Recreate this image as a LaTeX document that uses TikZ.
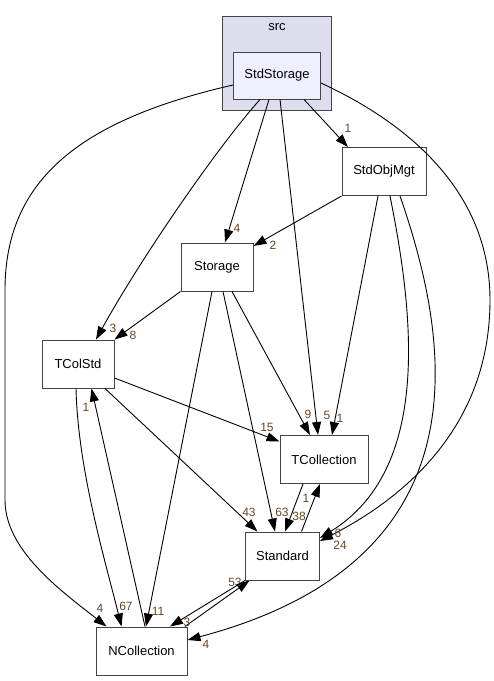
\documentclass[tikz,border=0pt]{standalone}
\usepackage{fontspec}
\setmainfont{Liberation Sans}
\usetikzlibrary{arrows.meta}
\definecolor{clusterfill}{HTML}{DDDDEE}
\definecolor{dirfill}{HTML}{EEEEFF}
\definecolor{dirline}{HTML}{444444}
\definecolor{deplabel}{HTML}{6B4420}

\begin{document}
\begin{tikzpicture} [x=1pt, y=-1pt,
    dir/.style={draw=dirline, line width=1pt, fill=white, inner sep=0pt,
        minimum height=48pt, font=\fontsize{13}{14}\selectfont},
    cluster/.style={draw=dirline, line width=1pt, fill=clusterfill, inner sep=0pt},
    dep/.style={-{Triangle[length=13pt, width=9pt]}, line width=0.9pt},
    lbl/.style={text=deplabel, inner sep=0pt, font=\fontsize{12}{12}\selectfont}]

\useasboundingbox (0,0) rectangle (494,681);

% src folder
\node (src) [cluster, minimum width=109pt, minimum height=94pt] at (277,63) {};
\node (srctitle) [font=\fontsize{13}{14}\selectfont] at (277,27) {src};

\node (stdstorage) [dir, fill=dirfill, minimum width=87pt, minimum height=47pt] at (277,75.5) {StdStorage};
\node (stdobjmgt) [dir, minimum width=84pt] at (384,171.5) {StdObjMgt};
\node (storage) [dir, minimum width=72pt] at (217,267) {Storage};
\node (tcolstd) [dir, minimum width=72pt] at (78,364) {TColStd};
\node (tcollection) [dir, minimum width=88pt] at (324,459.5) {TCollection};
\node (standard) [dir, minimum width=74pt] at (282.5,556) {Standard};
\node (ncollection) [dir, minimum width=91pt] at (141.5,651) {NCollection};

% StdStorage
\draw [dep] ([xshift=27pt]stdstorage.south) -- ([xshift=-36pt]stdobjmgt.north)
    node [lbl] at (348,128) {1};
\draw [dep] ([xshift=-8pt]stdstorage.south) -- ([xshift=8pt]storage.north)
    node [lbl] at (237,228) {4};
\draw [dep] ([xshift=-17pt]stdstorage.south) .. controls (215,150) and (140,260) .. ([xshift=18pt]tcolstd.north)
    node [lbl] at (113,328) {3};
\draw [dep] ([xshift=3pt]stdstorage.south) -- ([xshift=-6pt]tcollection.north)
    node [lbl] at (327,415) {5};
\draw [dep] ([yshift=-7.5pt]stdstorage.east) .. controls (390,115) and (490,180) .. (490,300)
    .. controls (490,430) and (400,500) .. ([yshift=15pt]standard.east)
    node [lbl] at (340,545) {24};
\draw [dep] ([yshift=-9.5pt]stdstorage.west) .. controls (80,120) and (5,180) .. (5,290) -- (5,500)
    .. controls (5,550) and (60,590) .. ([xshift=-35pt]ncollection.north)
    node [lbl] at (100,608) {4};

% StdObjMgt
\draw [dep] (stdobjmgt.south west) -- ([yshift=21pt]storage.east)
    node [lbl] at (273,245) {2};
\draw [dep] ([xshift=-6pt]stdobjmgt.south) -- ([xshift=8pt]tcollection.north)
    node [lbl] at (340,418) {1};
\draw [dep] ([xshift=6pt]stdobjmgt.south) .. controls (415,320) and (430,470) .. ([yshift=18pt]standard.east)
    node [lbl] at (338,533) {6};
\draw [dep] ([xshift=16pt]stdobjmgt.south) .. controls (450,340) and (490,560) .. ([yshift=11pt]ncollection.east)
    node [lbl] at (206,644) {4};

% Storage
\draw [dep] (storage.south west) -- (tcolstd.north east)
    node [lbl] at (133,335) {8};
\draw [dep] ([xshift=15pt]storage.south) -- ([xshift=-14pt]tcollection.north)
    node [lbl] at (308,414) {9};
\draw [dep] ([xshift=6pt]storage.south) -- ([xshift=-7.5pt]standard.north)
    node [lbl] at (282,512) {63};
\draw [dep] ([xshift=-5pt]storage.south) -- ([xshift=4.5pt]ncollection.north)
    node [lbl] at (158,611) {11};

% TColStd
\draw [dep] ([yshift=-14pt]tcolstd.east) -- ([yshift=18pt]tcollection.west)
    node [lbl] at (267,427) {15};
\draw [dep] ([xshift=27pt]tcolstd.south) -- ([xshift=-25pt]standard.north)
    node [lbl] at (249,512) {43};
\draw [dep] ([xshift=-2pt]tcolstd.south) .. controls (78,470) and (105,560) .. ([xshift=-20pt]ncollection.north)
    node [lbl] at (126,606) {67};

% the rest
\draw [dep] ([xshift=3.5pt]ncollection.north) -- ([xshift=13.5pt]tcolstd.south)
    node [lbl] at (86,407) {1};
\draw [dep] ([xshift=19pt]standard.north) -- ([xshift=-4pt]tcollection.south)
    node [lbl] at (306,498) {1};
\draw [dep] ([xshift=-21pt]tcollection.south) -- ([xshift=2.5pt]standard.north)
    node [lbl] at (299,516) {38};
\draw [dep] ([xshift=43.5pt]ncollection.north) -- ([xshift=4.5pt]standard.south west)
    node [lbl] at (235,582) {53};
\draw [dep] (standard.south west) -- ([xshift=28.5pt]ncollection.north)
    node [lbl] at (187,622) {3};
\end{tikzpicture}
\end{document}
